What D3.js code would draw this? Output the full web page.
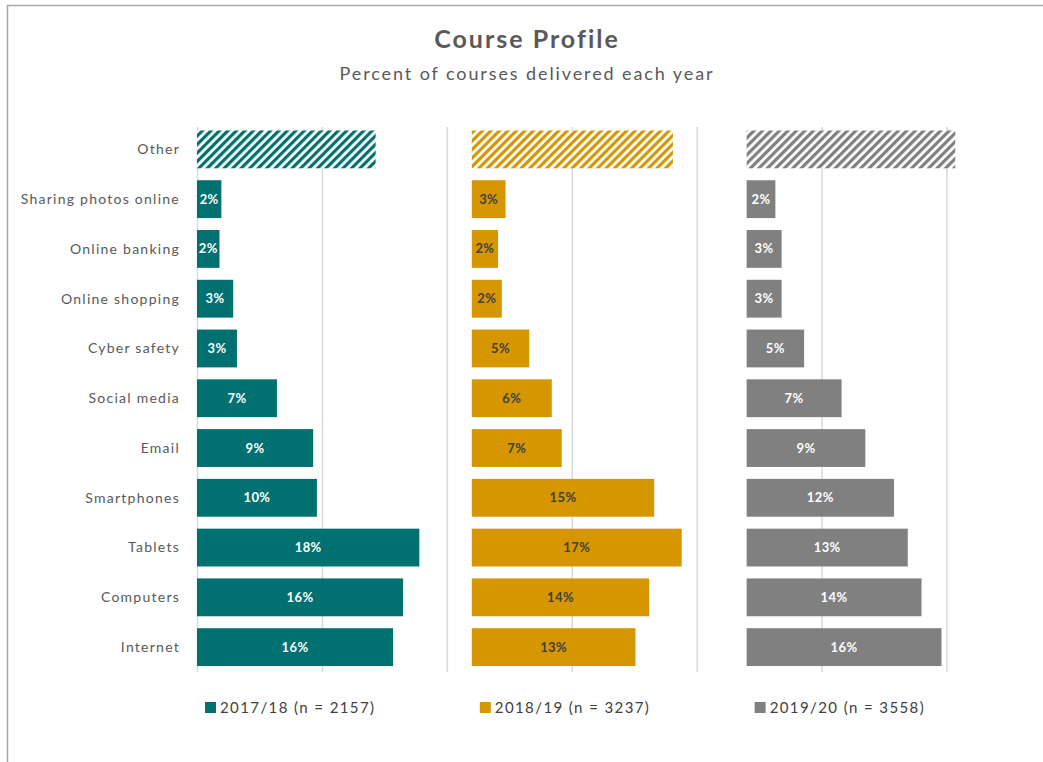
<!DOCTYPE html>
<html>
<head>
<meta charset="utf-8">
<script src="https://cdn.jsdelivr.net/npm/d3@7"></script>
<style>
  body { margin: 0; background: #fff; }
  text { font-family: Lato, "Open Sans", sans-serif; }
</style>
</head>
<body>
<div id="chart"></div>
<script>
// categories, top to bottom
var categories = ["Other", "Sharing photos online", "Online banking", "Online shopping",
  "Cyber safety", "Social media", "Email", "Smartphones", "Tablets", "Computers", "Internet"];

// percent of courses, same order as categories
var values1718 = [14.3, 1.95, 1.8, 2.9, 3.2, 6.4, 9.3, 9.6, 17.8, 16.5, 15.7];
var values1819 = [16.1, 2.7, 2.1, 2.4, 4.6, 6.4, 7.2, 14.6, 16.8, 14.2, 13.1];
var values1920 = [16.7, 2.3, 2.8, 2.8, 4.6, 7.6, 9.5, 11.8, 12.9, 14.0, 15.6];

// printed labels (Other has none)
var labels1718 = ["", "2%", "2%", "3%", "3%", "7%", "9%", "10%", "18%", "16%", "16%"];
var labels1819 = ["", "3%", "2%", "2%", "5%", "6%", "7%", "15%", "17%", "14%", "13%"];
var labels1920 = ["", "2%", "3%", "3%", "5%", "7%", "9%", "12%", "13%", "14%", "16%"];

var seriesNames = ["2017/18 (n = 2157)", "2018/19 (n = 3237)", "2019/20 (n = 3558)"];
var gridTicks = [0, 10, 20, 30, 40, 50, 60];

var colors = ["#007070", "#d69600", "#808080"];
var labelColors = ["#ffffff", "#404040", "#ffffff"];
// each panel starts this many points along the shared axis
var panelStart = [0, 22, 44];

var series = [values1718, values1819, values1920].map(function(v, i) {
  return { name: seriesNames[i], values: v, labels: [labels1718, labels1819, labels1920][i],
           color: colors[i], labelColor: labelColors[i], start: panelStart[i], idx: i };
});

var W = 1043, H = 762;
var svg = d3.select("#chart").append("svg").attr("width", W).attr("height", H);

// chart frame
svg.append("rect")
  .attr("x", 7.5).attr("y", 5.5).attr("width", W + 20).attr("height", H + 20)
  .attr("fill", "none").attr("stroke", "#a6a6a6").attr("stroke-width", 1.5);

// hatch patterns for Other
var defs = svg.append("defs");
series.forEach(function(s) {
  var p = defs.append("pattern")
    .attr("id", "hatch" + s.idx)
    .attr("patternUnits", "userSpaceOnUse")
    .attr("width", 6).attr("height", 6)
    .attr("patternTransform", "rotate(45)");
  p.append("rect").attr("width", 6).attr("height", 6).attr("fill", "#fff");
  p.append("rect").attr("width", 3.2).attr("height", 6).attr("fill", s.color);
});

var x = d3.scaleLinear().domain([0, 60]).range([197, 946.5]);
var y = d3.scaleBand().domain(categories).range([124.5, 672]).paddingInner(0.24).paddingOuter(0.12);

// gridlines
svg.append("g")
  .attr("transform", "translate(0,672)")
  .call(d3.axisBottom(x).tickValues(gridTicks).tickSize(-(672 - 127)).tickFormat(""))
  .call(function(g) {
    g.select(".domain").remove();
    g.selectAll(".tick line").attr("stroke", "#d9d9d9").attr("stroke-width", 1.5);
  });

// title
svg.append("text").attr("x", 527).attr("y", 48).attr("text-anchor", "middle")
  .attr("font-size", 25).attr("font-weight", "bold").attr("fill", "#595959")
  .attr("letter-spacing", 2)
  .text("Course Profile");
svg.append("text").attr("x", 527).attr("y", 80).attr("text-anchor", "middle")
  .attr("font-size", 18).attr("fill", "#595959")
  .attr("letter-spacing", 1.9)
  .text("Percent of courses delivered each year");

// category labels
svg.append("g").selectAll("text")
  .data(categories).enter().append("text")
  .attr("x", 180)
  .attr("y", function(d) { return y(d) + y.bandwidth() / 2; })
  .attr("dy", "0.35em")
  .attr("text-anchor", "end")
  .attr("font-size", 14)
  .attr("letter-spacing", 1.25)
  .attr("fill", "#595959")
  .text(function(d) { return d; });

// bars
var panel = svg.selectAll(".panel").data(series).enter().append("g").attr("class", "panel");

panel.selectAll("rect")
  .data(function(s) {
    return categories.map(function(c, i) { return { s: s, cat: c, v: s.values[i], label: s.labels[i] }; });
  })
  .enter().append("rect")
  .attr("x", function(d) { return x(d.s.start); })
  .attr("y", function(d) { return y(d.cat); })
  .attr("width", function(d) { return x(d.s.start + d.v) - x(d.s.start); })
  .attr("height", y.bandwidth())
  .attr("fill", function(d) { return d.cat === "Other" ? "url(#hatch" + d.s.idx + ")" : d.s.color; });

panel.selectAll("text")
  .data(function(s) {
    return categories.map(function(c, i) { return { s: s, cat: c, v: s.values[i], label: s.labels[i] }; })
      .filter(function(d) { return d.label; });
  })
  .enter().append("text")
  .attr("x", function(d) { return x(d.s.start + d.v / 2); })
  .attr("y", function(d) { return y(d.cat) + y.bandwidth() / 2; })
  .attr("dy", "0.35em")
  .attr("text-anchor", "middle")
  .attr("font-size", 13)
  .attr("font-weight", "bold")
  .attr("letter-spacing", 0.4)
  .attr("fill", function(d) { return d.s.labelColor; })
  .text(function(d) { return d.label; });

// legend
var legend = svg.selectAll(".legend").data(series).enter().append("g")
  .attr("class", "legend")
  .attr("transform", function(d) { return "translate(" + (x(d.start) + 8) + ",708)"; });
legend.append("rect").attr("x", 0).attr("y", -6).attr("width", 11).attr("height", 11)
  .attr("fill", function(d) { return d.color; });
legend.append("text").attr("x", 15).attr("y", 0).attr("dy", "0.35em")
  .attr("font-size", 15).attr("letter-spacing", 1.4).attr("fill", "#404040")
  .text(function(d) { return d.name; });
</script>
</body>
</html>
